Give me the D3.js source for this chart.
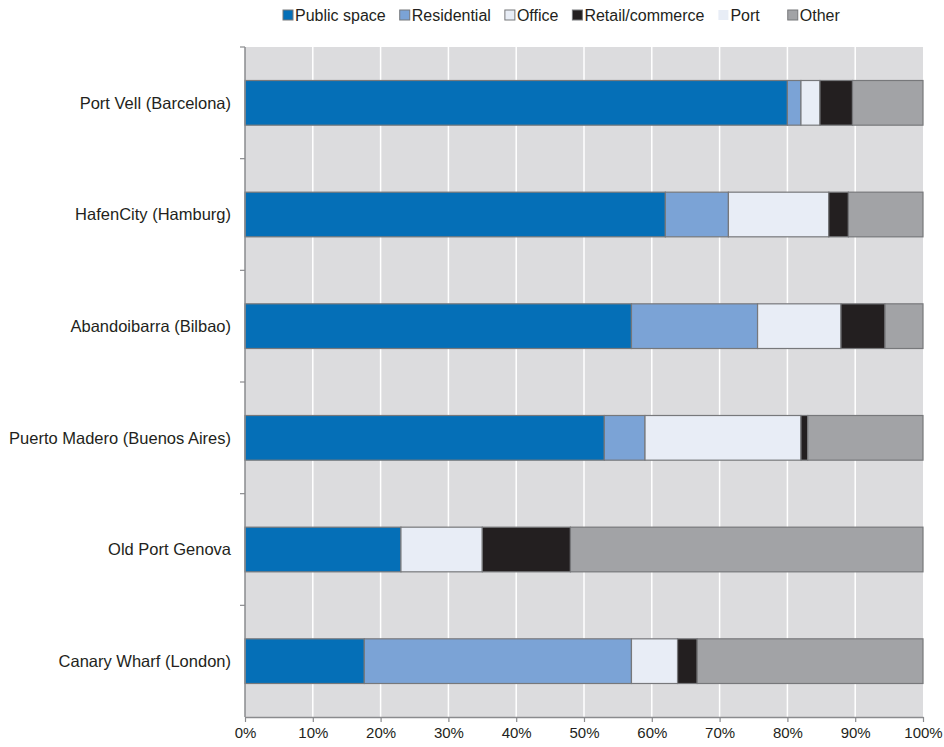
<!DOCTYPE html>
<html lang="en">
<head>
  <meta charset="UTF-8" />
  <title>Waterfront land use</title>
  <script src="https://d3js.org/d3.v7.min.js"></script>
  <style>
    body, html { margin: 0; padding: 0; background: #fff; }
    svg { display: block; font-family: "Liberation Sans", Arial, sans-serif; }
  </style>
</head>
<body>
  <svg id="chart" width="944" height="747"></svg>
  <script>
    // Data (percent of area per use)
    const categories = [
      "Port Vell (Barcelona)",
      "HafenCity (Hamburg)",
      "Abandoibarra (Bilbao)",
      "Puerto Madero (Buenos Aires)",
      "Old Port Genova",
      "Canary Wharf (London)"
    ];
    const seriesNames = ["Public space", "Residential", "Office", "Retail/commerce", "Port", "Other"];
    const publicSpace = [80, 62, 57, 53, 23, 17.6];
    const residential = [2, 9.3, 18.6, 6, 0, 39.4];
    const office      = [2.8, 14.8, 12.3, 23, 12, 6.8];
    const retail      = [4.8, 2.9, 6.5, 1, 13, 2.9];
    const port        = [0, 0, 0, 0, 0, 0];
    const other       = [10.4, 11, 5.6, 17, 52, 33.3];
    const xTicks = [0, 10, 20, 30, 40, 50, 60, 70, 80, 90, 100];

    const colors = ["#056fb7", "#7ba3d6", "#e8edf6", "#231f20", "#e8edf6", "#a2a3a6"];

    const rows = categories.map((c, i) => ({
      name: c,
      "Public space": publicSpace[i],
      "Residential": residential[i],
      "Office": office[i],
      "Retail/commerce": retail[i],
      "Port": port[i],
      "Other": other[i]
    }));

    const svg = d3.select("#chart");
    const margin = { left: 245, right: 21, top: 47, bottom: 30 };
    const width = 944 - margin.left - margin.right;
    const height = 747 - margin.top - margin.bottom;

    const x = d3.scaleLinear().domain([0, 100]).range([0, width]);
    const y = d3.scaleBand().domain(categories).range([0, height]).paddingInner(0.6).paddingOuter(0.3);

    const g = svg.append("g").attr("transform", `translate(${margin.left},${margin.top})`);

    // plot background and vertical gridlines
    g.append("rect").attr("width", width).attr("height", height).attr("fill", "#dcdcde");
    g.selectAll("line.grid").data(xTicks.slice(1, -1)).join("line")
      .attr("class", "grid")
      .attr("x1", d => x(d)).attr("x2", d => x(d))
      .attr("y1", 0).attr("y2", height)
      .attr("stroke", "#fff").attr("stroke-width", 1.5);

    // stacked bars
    const stacked = d3.stack().keys(seriesNames)(rows);
    g.selectAll("g.series").data(stacked).join("g")
      .attr("class", "series")
      .attr("fill", (d, i) => colors[i])
      .selectAll("rect").data(d => d.filter(s => s[1] - s[0] > 0)).join("rect")
      .attr("x", d => x(d[0]))
      .attr("width", d => x(d[1]) - x(d[0]))
      .attr("y", d => y(d.data.name))
      .attr("height", y.bandwidth())
      .attr("stroke", "#77787b")
      .attr("stroke-width", 1.2);

    // y axis: line plus ticks at band boundaries
    const step = height / categories.length;
    g.append("line").attr("x1", 0).attr("x2", 0).attr("y1", 0).attr("y2", height)
      .attr("stroke", "#8a8b8e").attr("stroke-width", 1.5);
    g.selectAll("line.ytick").data(d3.range(categories.length)).join("line")
      .attr("class", "ytick")
      .attr("x1", -5).attr("x2", 0)
      .attr("y1", d => d * step).attr("y2", d => d * step)
      .attr("stroke", "#8a8b8e").attr("stroke-width", 1.2);
    g.selectAll("text.ylab").data(categories).join("text")
      .attr("class", "ylab")
      .attr("x", -14)
      .attr("y", d => y(d) + y.bandwidth() / 2)
      .attr("dy", "0.35em")
      .attr("text-anchor", "end")
      .attr("font-size", 16.5)
      .attr("fill", "#231f20")
      .text(d => d);

    // x axis
    const xAxis = g.append("g")
      .attr("transform", `translate(0,${height})`)
      .call(d3.axisBottom(x).tickValues(xTicks).tickFormat(d => d + "%").tickSize(5).tickSizeOuter(0));
    xAxis.select(".domain").attr("stroke", "#8a8b8e").attr("stroke-width", 1.5);
    xAxis.selectAll(".tick line").attr("stroke", "#8a8b8e").attr("stroke-width", 1.2);
    xAxis.selectAll(".tick text")
      .attr("font-size", 15).attr("fill", "#231f20").attr("y", 10)
      .attr("font-family", "\"Liberation Sans\", Arial, sans-serif");

    // legend, laid out left to right from measured text widths
    const legend = svg.append("g").attr("transform", "translate(0,15)");
    let lx = 283;
    seriesNames.forEach((name, i) => {
      const item = legend.append("g").attr("transform", `translate(${lx},0)`);
      item.append("rect")
        .attr("x", 0).attr("y", -5).attr("width", 10).attr("height", 10)
        .attr("fill", colors[i])
        .attr("stroke", name === "Port" ? "none" : "#77787b")
        .attr("stroke-width", 1);
      const t = item.append("text")
        .attr("x", 12).attr("dy", "0.35em")
        .attr("font-size", 16).attr("fill", "#231f20")
        .text(name);
      lx += 12 + t.node().getComputedTextLength() + (name === "Port" ? 28 : 14);
    });
  </script>
</body>
</html>
